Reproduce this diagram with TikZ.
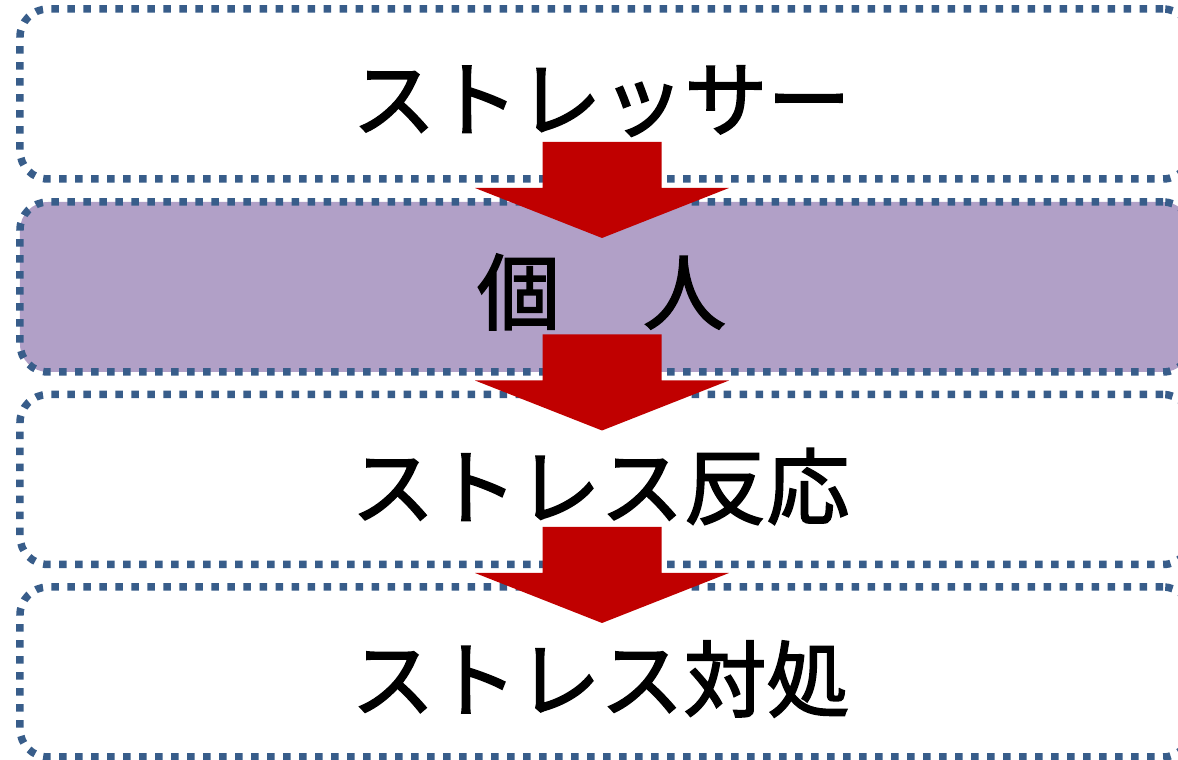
\documentclass[tikz,border=0pt]{standalone}
\usepackage{fontspec}
\newfontfamily\jp[FakeBold=2]{Noto Sans CJK JP}
\usetikzlibrary{calc}
\definecolor{dotblue}{HTML}{385D8A}
\definecolor{lilac}{HTML}{B1A0C7}
\definecolor{arrowred}{HTML}{C00000}
\tikzset{
  x=1bp, y=1bp,
  stagebox/.style={draw=dotblue, line width=7.5bp, dash pattern=on 7.5bp off 8.5bp,
    rounded corners=28bp, minimum width=1171bp, minimum height=170bp,
    inner sep=0pt, outer sep=0pt},
  stagelabel/.style={font=\jp\fontsize{83bp}{90bp}\selectfont, inner sep=0pt, text=black},
  blockarrow/.pic={
    \fill[arrowred] (0,0) -- (127,50) -- (59.5,50) -- (59.5,96) -- (-59.5,96)
      -- (-59.5,50) -- (-127,50) -- cycle;
  }
}
\begin{document}
\begin{tikzpicture}
\useasboundingbox (0,0) rectangle (1178,760);
\clip (0,0) rectangle (1178,760);
\fill[white] (0,0) rectangle (1178,760);
% boxes
\node[stagebox] (b1) at (605.5,666) {};
\node[stagebox, fill=lilac] (b2) at (605.5,473) {};
\node[stagebox] (b3) at (605.5,280.5) {};
\node[stagebox] (b4) at (605.5,88) {};
% arrows (connectors between stages)
\coordinate (a1) at ($(b2.north)+(-3.5,-36)$);
\coordinate (a2) at ($(b3.north)+(-3.5,-36)$);
\coordinate (a3) at ($(b4.north)+(-3.5,-36)$);
\pic at (a1) {blockarrow};
\pic at (a2) {blockarrow};
\pic at (a3) {blockarrow};
% labels
\node[stagelabel] (t1) at ($(b1.center)+(-4,-7)$) {ストレッサー};
\node[stagelabel] (t2) at ($(b2.center)+(-4,-5)$) {個　人};
\node[stagelabel] (t3) at ($(b3.center)+(-5,-7)$) {ストレス反応};
\node[stagelabel] (t4) at ($(b4.center)+(-5,-7)$) {ストレス対処};
\end{tikzpicture}
\end{document}
